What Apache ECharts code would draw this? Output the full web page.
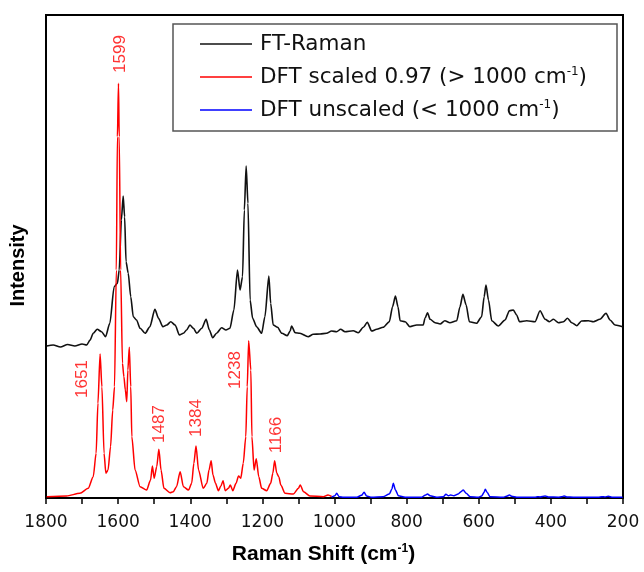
<!DOCTYPE html>
<html>
<head>
<meta charset="utf-8">
<script src="https://cdn.jsdelivr.net/npm/echarts@6/dist/echarts.min.js"></script>
<style>html,body{margin:0;padding:0;background:#fff;}#c{width:644px;height:572px;}</style>
</head>
<body>
<div id="c"></div>
<script>
// ---- data (Raman shift in cm^-1, intensity in arbitrary units) ----
const ftShift = [1798,1780,1760,1740,1720,1700,1687,1678,1669,1658,1646,1635,1623,1611,1602,1597,1591,1586,1582,1578,1572,1565,1558,1549,1539,1525,1512,1498,1488,1476,1465,1454,1442,1430,1419,1410,1401,1391,1382,1368,1356,1347,1338,1327,1313,1301,1290,1279,1269,1262,1255,1250,1245,1240,1234,1227,1216,1202,1193,1182,1177,1170,1158,1146,1131,1123,1119,1109,1096,1073,1059,1040,1022,1008,994,983,971,948,934,920,909,897,883,865,848,839,831,824,818,804,791,772,754,749,742,735,721,707,694,680,661,652,644,635,626,606,592,585,580,573,564,546,527,515,504,495,487,467,444,430,416,404,393,379,365,354,342,328,315,296,282,264,247,236,222,201];
const ftIntensity = [152,153,151,153.5,152,154,153,158,164.7,168.7,166.3,161.3,174.7,211.3,214.7,228,278,302,281.3,236.3,224.7,201.3,181.3,178,169.7,164.7,171.3,188.7,179.7,171.3,173,176.3,173,163,164.7,168,173,169.7,164.7,169.7,178.7,168,160.3,164.7,170.3,168,169.7,188,228,208,221.3,288,332,294.7,198,179.7,171.3,164.7,181.3,222,194.7,173,170.7,164.7,162.3,167,172,165.3,164.7,161.3,163.7,164,164.7,167,166.3,168.7,166.3,167.3,165.3,170.7,175.7,167,168.7,170.7,176.3,191.3,202,191.3,177.3,176.3,171.3,173,173,179.7,185.3,178.7,175.3,174,177.3,175.3,177.3,191.3,203.7,193,176.3,174.7,181.3,201.3,213,198,177.3,172,178,187.3,188,183,176.3,177.3,176.3,187.3,178.7,176.3,178.7,175.3,176.3,179.7,175.3,172.3,177,177.3,176.3,178.7,184.7,178,173,171.3];

const scaledShift = [1798,1743,1706,1683,1669,1661,1656,1650,1645,1639,1634,1628,1621,1615,1610,1605,1602,1599,1597,1593,1588,1584,1580,1576,1573,1569,1565,1562,1553,1539,1521,1510,1505,1500,1493,1487,1481,1473,1456,1447,1438,1428,1419,1405,1396,1390,1384,1377,1364,1354,1348,1342,1337,1330,1322,1315,1309,1303,1294,1289,1282,1273,1266,1260,1253,1246,1242,1238,1232,1229,1223,1217,1210,1202,1188,1177,1171,1166,1160,1154,1149,1137,1114,1100,1095,1086,1068,1031,1018,1008];
const scaledIntensity = [1.3,2,4.7,9.7,21.3,44.7,94.7,144,111.3,44.7,24.7,28,51.3,88,111.3,228,361.3,414.7,361.3,228,134.7,121.3,108,96.3,128,150.7,111.3,61.3,28,11.3,8,18,32,19.7,31.3,48.7,28,9.7,5.3,6.3,11.3,26.3,11.3,8,14.7,34.7,52,28,9.7,14.7,28,37.3,23,14.7,7.3,12,17.3,7.3,9.7,13,7.3,14.7,22,19.7,34.7,61.3,111.3,157.3,128,61.3,28,39.3,21.3,9.7,7.3,14.7,24.7,37.3,24.7,20.7,13,4.7,4,9.7,13,6.3,2,1.3,3,1.5];

const unscaledShift = [1008,999,994,987,975,938,925,918,911,897,865,848,841,837,831,823,804,758,749,742,735,717,698,691,684,678,669,657,649,643,635,624,601,592,585,582,576,569,532,521,515,509,495,444,437,430,416,407,379,370,363,356,338,268,259,250,241,231,201];
const unscaledIntensity = [0.8,2.3,4.7,1.3,0.8,0.8,2.7,5.7,2,0.8,1.3,4,8.7,14.7,8,2.3,0.8,0.8,2.7,4,2.3,0.8,1.3,3.7,2.3,3,2.3,4,6.3,8,4.7,1.3,0.8,2,5.7,8.7,5.3,1.3,0.8,2,3,1.7,0.8,0.8,1.3,1,2,1,0.8,1.3,2,1,0.8,0.8,1.3,1,1.7,0.8,0.8];

const peakLabels = ['1599','1651','1487','1384','1238','1166'];
const peakLabelShift = [1594,1699,1487,1384,1276,1160];
const peakLabelIntensity = [444,119,74,80,128,63];

const seriesNames = ['FT-Raman','DFT scaled 0.97 (> 1000 cm-1)','DFT unscaled (< 1000 cm-1)'];
const xTicks = {min:200, max:1800, tickStep:100, labelStep:200};

// ---- build ----
function zip(a,b){return a.map((v,i)=>[v,b[i]]);}
const sans = '"DejaVu Sans", Verdana, sans-serif';
const arial = '"Liberation Sans", Arial, sans-serif';

const chart = echarts.init(document.getElementById('c'), null, {renderer:'canvas'});
chart.setOption({
  animation:false,
  backgroundColor:'#fff',
  grid:{left:46,right:21,top:15,bottom:74,show:true,borderColor:'#000',borderWidth:2,containLabel:false},
  legend:{
    orient:'vertical', left:173, top:24,
    data:seriesNames,
    icon:'rect',
    padding:[9,30,10,27],
    itemGap:11, itemWidth:52, itemHeight:1.5,
    borderColor:'#555', borderWidth:1.5,
    textStyle:{fontFamily:sans,fontSize:21.5,color:'#111',lineHeight:22,padding:[0,0,0,3],
      rich:{t:{fontFamily:sans,fontSize:21.5,color:'#111',lineHeight:22},
            s:{fontFamily:sans,fontSize:12,color:'#111',verticalAlign:'top',lineHeight:13}}},
    formatter:function(n){return '{t|'+n.replace('cm-1)','cm}{s|-1}{t|)')+'}';}
  },
  xAxis:{
    type:'value', inverse:true, min:xTicks.min, max:xTicks.max, interval:xTicks.tickStep,
    axisLine:{show:true,onZero:false,lineStyle:{color:'#000',width:2}},
    axisTick:{show:true,inside:false,length:6,lineStyle:{color:'#000',width:1.5}},
    splitLine:{show:false},
    axisLabel:{fontFamily:sans,fontSize:17,color:'#111',margin:16,
      formatter:v=>(v % xTicks.labelStep === 0 ? String(v) : '')},
    name:'{b|Raman Shift (cm}{s|-1}{b|)}', nameLocation:'middle', nameGap:45,
    nameTextStyle:{padding:[0,22,0,0],rich:{b:{fontFamily:arial,fontWeight:'bold',fontSize:21,color:'#000',lineHeight:22},
                         s:{fontFamily:arial,fontWeight:'bold',fontSize:12,color:'#000',verticalAlign:'top',lineHeight:12}}}
  },
  yAxis:{
    type:'value', min:0, max:483,
    axisLine:{show:true,lineStyle:{color:'#000',width:2}},
    axisTick:{show:false}, axisLabel:{show:false}, splitLine:{show:false},
    name:'Intensity', nameLocation:'middle', nameGap:18, nameRotate:90,
    nameTextStyle:{fontFamily:arial,fontWeight:'bold',fontSize:20,color:'#000',padding:[0,18,0,0]}
  },
  series:[
    {name:seriesNames[0],type:'line',data:zip(ftShift,ftIntensity),showSymbol:false,symbol:'none',smooth:0.25,smoothMonotone:'x',lineStyle:{color:'#111',width:1.6},itemStyle:{color:'#111'},z:3},
    {name:seriesNames[1],type:'line',data:zip(scaledShift,scaledIntensity),showSymbol:false,symbol:'none',smooth:0.25,smoothMonotone:'x',lineStyle:{color:'#ff0000',width:1.5},itemStyle:{color:'#ff0000'},z:4},
    {name:seriesNames[2],type:'line',data:zip(unscaledShift,unscaledIntensity),showSymbol:false,symbol:'none',smooth:0.25,smoothMonotone:'x',lineStyle:{color:'#0000ff',width:1.5},itemStyle:{color:'#0000ff'},z:4},
    {name:'labels',type:'scatter',silent:true,symbolSize:1,itemStyle:{color:'rgba(0,0,0,0)'},
      data:peakLabels.map((t,i)=>({value:[peakLabelShift[i],peakLabelIntensity[i]],name:t})),
      label:{show:true,position:'inside',rotate:90,formatter:p=>p.name,color:'#ff0000',fontFamily:arial,fontSize:17},z:5}
  ]
});
</script>
</body>
</html>
